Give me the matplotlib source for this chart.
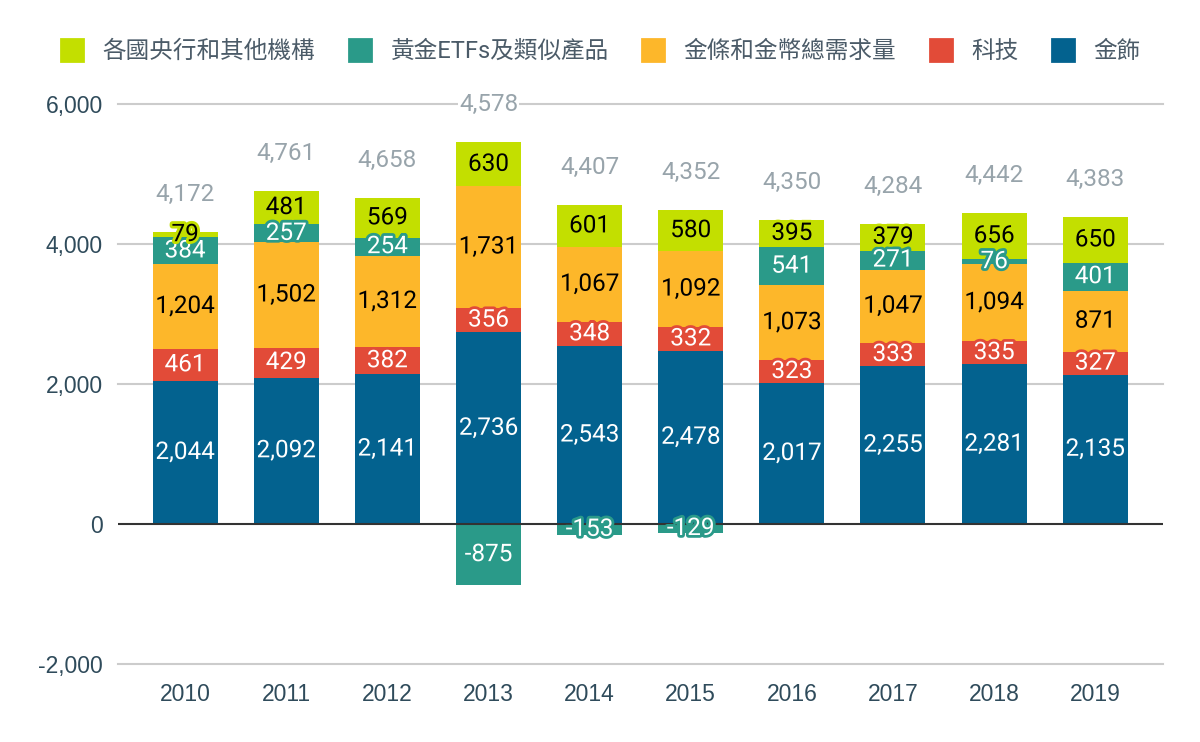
import numpy as np
import matplotlib
matplotlib.use('Agg')
import matplotlib.pyplot as plt
import matplotlib.patheffects as pe
from matplotlib.patches import Patch

plt.rcParams['font.family'] = ['Roboto', 'Noto Sans CJK TC', 'DejaVu Sans']

# 資料
years = ['2010', '2011', '2012', '2013', '2014', '2015', '2016', '2017', '2018', '2019']
jewelry = [2044, 2092, 2141, 2736, 2543, 2478, 2017, 2255, 2281, 2135]
technology = [461, 429, 382, 356, 348, 332, 323, 333, 335, 327]
bar_coin = [1204, 1502, 1312, 1731, 1067, 1092, 1073, 1047, 1094, 871]
etfs = [384, 257, 254, -875, -153, -129, 541, 271, 76, 401]
central_banks = [79, 481, 569, 630, 601, 580, 395, 379, 656, 650]
totals = [4172, 4761, 4658, 4578, 4407, 4352, 4350, 4284, 4442, 4383]

names = ['金飾', '科技', '金條和金幣總需求量', '黃金ETFs及類似產品', '各國央行和其他機構']
series = [jewelry, technology, bar_coin, etfs, central_banks]
colors = ['#03628F', '#E24B38', '#FDB72A', '#2A9A89', '#C3DF00']
text_colors = ['white', 'white', 'black', 'white', 'black']

fig = plt.figure(figsize=(12, 7.42), dpi=100)
ax = fig.add_axes([118 / 1200, 1 - 664 / 742, (1163 - 118) / 1200, (664 - 104) / 742])

x = np.arange(len(years))
width = 0.643
pos_base = np.zeros(len(years))
neg_base = np.zeros(len(years))

for vals, col, tcol in zip(series, colors, text_colors):
    vals = np.array(vals, dtype=float)
    bottom = np.where(vals >= 0, pos_base, neg_base)
    ax.bar(x, vals, width, bottom=bottom, color=col, zorder=3, linewidth=0)
    for xi, b, v in zip(x, bottom, vals):
        ax.text(xi, b + v / 2, f'{int(v):,}', ha='center', va='center',
                fontsize=17.5, color=tcol, family='Roboto', zorder=5,
                path_effects=[pe.withStroke(linewidth=4, foreground=col)])
    pos_base = np.where(vals >= 0, pos_base + vals, pos_base)
    neg_base = np.where(vals < 0, neg_base + vals, neg_base)

# 總量
for xi, top, t in zip(x, pos_base, totals):
    ax.annotate(f'{t:,}', (xi, top), xytext=(0, 27), textcoords='offset points',
                ha='center', va='center', fontsize=17.5, color='#98A4AB',
                family='Roboto', zorder=6,
                bbox=dict(boxstyle='square,pad=0.05', fc='white', ec='none'))

ax.set_ylim(-2000, 6000)
ax.set_xlim(-0.663, 9.67)
for y in [-2000, 2000, 4000, 6000]:
    ax.axhline(y, color='#CCCCCC', lw=1.5, zorder=1, clip_on=False)
ax.axhline(0, color='#333333', lw=1.5, zorder=4)

ax.set_yticks([-2000, 0, 2000, 4000, 6000])
ax.set_yticklabels([f'{v:,}' for v in [-2000, 0, 2000, 4000, 6000]])
ax.set_xticks(x)
ax.set_xticklabels(years)
ax.tick_params(length=0, labelsize=16.5, colors='#2F4B5B')
ax.tick_params(axis='y', pad=11)
ax.tick_params(axis='x', pad=14)
for lab in ax.get_xticklabels() + ax.get_yticklabels():
    lab.set_family('Liberation Sans')
for s in ax.spines.values():
    s.set_visible(False)

# 圖例 (圓角方塊)
handles = [Patch(facecolor=c, edgecolor=c, linewidth=2, joinstyle='round', label=n)
           for n, c in zip(names[::-1], colors[::-1])]
leg = fig.legend(handles=handles, loc='center left', bbox_to_anchor=(40 / 1200, 1 - 51 / 742),
                 ncol=5, frameon=False, fontsize=17, handlelength=0.93, handleheight=1.08,
                 handletextpad=0.8, columnspacing=1.45)
for t in leg.get_texts():
    t.set_color('#4B5B68')

fig.savefig('out.png', dpi=100)
